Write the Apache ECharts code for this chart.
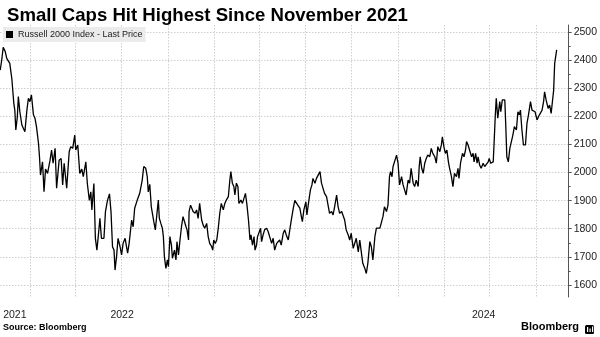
<!DOCTYPE html>
<html>
<head>
<meta charset="utf-8">
<script src="https://cdn.jsdelivr.net/npm/echarts@6/dist/echarts.min.js"></script>
<style>
html,body{margin:0;padding:0;background:#fff;}
#c{width:600px;height:337px;}
</style>
</head>
<body>
<div id="c"></div>
<script>
// ---- data ----
const seriesName = 'Russell 2000 Index - Last Price';
const dates = [
'2021-11-02','2021-11-05','2021-11-08','2021-11-12','2021-11-15','2021-11-18','2021-11-21','2021-11-25','2021-11-28','2021-11-29',
'2021-12-01','2021-12-03','2021-12-06','2021-12-08','2021-12-11','2021-12-15','2021-12-18','2021-12-21','2021-12-25','2021-12-28','2021-12-31',
'2022-01-03','2022-01-07','2022-01-10','2022-01-13','2022-01-17','2022-01-19','2022-01-21','2022-01-25','2022-01-28','2022-01-31',
'2022-02-04','2022-02-09','2022-02-12','2022-02-15','2022-02-19','2022-02-22','2022-02-27',
'2022-03-03','2022-03-06','2022-03-09','2022-03-14','2022-03-19','2022-03-22','2022-03-26','2022-03-30',
'2022-04-01','2022-04-05','2022-04-09','2022-04-13','2022-04-16','2022-04-21','2022-04-24','2022-04-28',
'2022-05-01','2022-05-03','2022-05-07','2022-05-10','2022-05-13','2022-05-16','2022-05-19','2022-05-22','2022-05-27','2022-05-30',
'2022-06-03','2022-06-07','2022-06-10','2022-06-13','2022-06-16','2022-06-18','2022-06-21','2022-06-24','2022-06-28',
'2022-07-01','2022-07-04','2022-07-08','2022-07-13','2022-07-16','2022-07-21','2022-07-24','2022-07-27',
'2022-08-01','2022-08-06','2022-08-11','2022-08-14','2022-08-18','2022-08-21','2022-08-23','2022-08-26','2022-08-29',
'2022-09-03','2022-09-06','2022-09-10','2022-09-12','2022-09-14','2022-09-17','2022-09-20','2022-09-22','2022-09-24','2022-09-27','2022-09-30',
'2022-10-02','2022-10-05','2022-10-08','2022-10-10','2022-10-14','2022-10-17','2022-10-19','2022-10-22','2022-10-25','2022-10-28','2022-10-31',
'2022-11-03','2022-11-06','2022-11-08','2022-11-11','2022-11-12','2022-11-15','2022-11-18','2022-11-20','2022-11-24','2022-11-27','2022-11-30',
'2022-12-03','2022-12-07','2022-12-10','2022-12-13','2022-12-17','2022-12-20','2022-12-23','2022-12-27','2022-12-29','2022-12-31',
'2023-01-03','2023-01-06','2023-01-09','2023-01-12','2023-01-15','2023-01-19','2023-01-22','2023-01-25','2023-01-29',
'2023-02-01','2023-02-03','2023-02-06','2023-02-09','2023-02-11','2023-02-14','2023-02-17','2023-02-19','2023-02-23','2023-02-26',
'2023-03-01','2023-03-04','2023-03-07','2023-03-10','2023-03-13','2023-03-15','2023-03-18','2023-03-21','2023-03-23','2023-03-26','2023-03-28','2023-03-31',
'2023-04-03','2023-04-05','2023-04-08','2023-04-11','2023-04-15','2023-04-18','2023-04-21','2023-04-25','2023-04-28',
'2023-05-01','2023-05-05','2023-05-08','2023-05-11','2023-05-14','2023-05-18','2023-05-21','2023-05-24','2023-05-28','2023-05-31',
'2023-06-03','2023-06-07','2023-06-10','2023-06-13','2023-06-16','2023-06-20','2023-06-23','2023-06-25','2023-06-28',
'2023-07-02','2023-07-04','2023-07-08','2023-07-11','2023-07-14','2023-07-16','2023-07-20','2023-07-23','2023-07-26','2023-07-30',
'2023-08-02','2023-08-05','2023-08-08','2023-08-12','2023-08-15','2023-08-18','2023-08-22','2023-08-25','2023-08-28',
'2023-09-01','2023-09-04','2023-09-07','2023-09-11','2023-09-14','2023-09-17','2023-09-20','2023-09-24','2023-09-27','2023-09-30',
'2023-10-04','2023-10-07','2023-10-10','2023-10-14','2023-10-17','2023-10-20','2023-10-23','2023-10-27','2023-10-30',
'2023-11-02','2023-11-06','2023-11-09','2023-11-12','2023-11-16','2023-11-19','2023-11-22','2023-11-26','2023-11-29',
'2023-12-02','2023-12-05','2023-12-09','2023-12-12','2023-12-15','2023-12-17','2023-12-20','2023-12-22','2023-12-25','2023-12-29',
'2024-01-01','2024-01-04','2024-01-08','2024-01-11','2024-01-14','2024-01-17','2024-01-21','2024-01-24','2024-01-27','2024-01-31',
'2024-02-03','2024-02-06','2024-02-10','2024-02-12','2024-02-14','2024-02-17','2024-02-20','2024-02-23','2024-02-26','2024-02-29',
'2024-03-04','2024-03-07','2024-03-10','2024-03-14','2024-03-17','2024-03-20','2024-03-24','2024-03-27','2024-03-29',
'2024-04-01','2024-04-04','2024-04-07','2024-04-10','2024-04-12','2024-04-16','2024-04-19','2024-04-22','2024-04-26','2024-04-29',
'2024-05-01','2024-05-04','2024-05-08','2024-05-11','2024-05-14','2024-05-16','2024-05-19','2024-05-22','2024-05-26','2024-05-29','2024-05-31',
'2024-06-03','2024-06-06','2024-06-08','2024-06-11','2024-06-14','2024-06-18','2024-06-21','2024-06-24','2024-06-28','2024-06-30',
'2024-07-03','2024-07-08','2024-07-10','2024-07-12','2024-07-14','2024-07-17','2024-07-21','2024-07-23','2024-07-26','2024-07-29','2024-07-31',
'2024-08-02','2024-08-04','2024-08-07','2024-08-10','2024-08-13','2024-08-16','2024-08-19','2024-08-23','2024-08-26','2024-08-29','2024-08-31',
'2024-09-03','2024-09-06','2024-09-10','2024-09-13','2024-09-16','2024-09-20','2024-09-23','2024-09-26','2024-09-29',
'2024-10-03','2024-10-06','2024-10-09','2024-10-13','2024-10-16','2024-10-18','2024-10-21','2024-10-25','2024-10-28','2024-10-31',
'2024-11-02','2024-11-05','2024-11-07','2024-11-09','2024-11-11'
];
const values = [
2364,2400,2445,2430,2406,2412,2388,2335,2329,2246,
2222,2151,2198,2270,2216,2169,2169,2145,2222,2264,2252,
2276,2205,2193,2163,2104,2056,1991,2038,1932,2012,
1997,2044,2080,2033,2086,1944,2044,
2050,1956,2033,1944,2074,2092,2086,2133,
2080,2098,1997,2012,1985,2038,1961,1901,
1931,1867,1961,1766,1724,1778,1837,1766,1766,1861,
1901,1924,1861,1736,1724,1653,1701,1766,1736,
1707,1748,1766,1713,1748,1831,1807,1873,
1901,1926,1973,2021,2015,1985,1931,1958,1878,
1825,1796,1867,1902,1837,1819,1802,1772,1701,1659,1689,
1665,1772,1742,1695,1724,1689,1754,1707,1760,1807,1843,
1849,1807,1796,1760,1861,1884,1890,1861,1855,1867,1837,
1890,1831,1813,1802,1819,1772,1748,1736,1724,1760,
1748,1760,1802,1855,1890,1867,1890,1902,1914,
1973,2003,1962,1950,1920,1962,1950,1890,1902,1890,
1908,1926,1884,1831,1760,1778,1742,1772,1724,1742,1772,1766,
1802,1754,1778,1796,1802,1790,1784,1748,1766,
1724,1748,1742,1760,1742,1784,1796,1778,1760,1754,
1831,1873,1901,1896,1884,1873,1843,1825,1867,
1896,1849,1902,1938,1956,1979,1962,1979,1973,2003,
1962,1956,1926,1914,1884,1855,1861,1849,1878,
1920,1878,1855,1861,1867,1831,1796,1778,1760,1784,
1730,1730,1766,1718,1760,1718,1677,1659,1641,
1677,1754,1736,1689,1772,1802,1796,1802,1807,
1843,1878,1861,1884,1985,2003,1985,2021,2038,2062,
2033,1956,1985,1956,1938,1920,1973,1962,2015,1962,
1950,1973,1950,2021,2056,2015,1997,2033,2050,2062,
2056,2086,2068,2056,2033,2092,2074,2098,2127,
2092,2068,2080,2038,2018,1985,1950,1997,1985,2015,
1979,2033,2068,2056,2080,2110,2098,2098,2056,2068,2038,
2068,2033,2056,2027,2015,2033,2021,2027,2038,2050,
2033,2038,2116,2199,2264,2193,2252,2216,2258,2252,2258,
2163,2056,2038,2086,2092,2133,2163,2151,2216,2205,2222,
2151,2098,2098,2175,2205,2252,2222,2228,2216,
2187,2199,2193,2222,2252,2287,2258,2228,2240,2210,
2205,2293,2388,2394,2436
];
const yTicks = [1600,1700,1800,1900,2000,2100,2200,2300,2400,2500];
const yMinorTicks = [1650,1750,1850,1950,2050,2150,2250,2350,2450];
const quarterTicks = ['2022-01-01','2022-04-01','2022-07-01','2022-10-01','2023-01-01','2023-04-01','2023-07-01','2023-10-01','2024-01-01','2024-04-01','2024-07-01','2024-10-01'];
const yearLabels = ['2021','2022','2023','2024'];
const yearLabelDates = ['2021-12-01','2022-07-02','2023-07-02','2024-06-19'];
const titleText = 'Small Caps Hit Highest Since November 2021';
const sourceText = 'Source: Bloomberg';
const brandText = 'Bloomberg';

function t(s){ const p = s.split('-').map(Number); return new Date(p[0], p[1]-1, p[2]).getTime(); }
const labelTimes = yearLabelDates.map(t);

const seriesData = dates.map((d,i) => [t(d), values[i]]);
const chart = echarts.init(document.getElementById('c'), null, {renderer:'canvas'});
const gridStyle = {color:'#cfcfcf', type:[1.5,1.5], width:1};
const font = 'Liberation Sans, Arial, sans-serif';

chart.setOption({
  animation:false,
  backgroundColor:'#ffffff',
  title:{
    text:titleText, left:2, top:1,
    textStyle:{fontFamily:font, fontWeight:'bold', fontSize:18.6, color:'#000'}
  },
  legend:{
    show:true, left:3, top:27, padding:[3,3,3,3],
    backgroundColor:'#ebebeb', borderRadius:0,
    itemWidth:7, itemHeight:7, itemGap:2,
    icon:'rect',
    data:[{name:seriesName, icon:'rect', itemStyle:{color:'#000'}}],
    textStyle:{fontFamily:font, fontSize:9, color:'#222'}
  },
  grid:{left:0, right:31, top:25, bottom:40, containLabel:false},
  xAxis:{
    type:'value',
    min:new Date(2021,10,1,14).getTime(),
    max:new Date(2024,11,4,18).getTime(),
    axisLine:{show:false},
    axisTick:{show:false, customValues:quarterTicks.map(t)},
    splitLine:{show:true, lineStyle:gridStyle},
    axisLabel:{
      customValues:labelTimes,
      formatter:function(v){ const k = labelTimes.indexOf(v); return k >= 0 ? yearLabels[k] : ''; },
      fontFamily:font, fontSize:10.5, color:'#222', margin:13
    }
  },
  yAxis:[{
    type:'value', position:'right', min:1557.3, max:2524.5,
    axisLine:{show:true, lineStyle:{color:'#555', width:1}},
    axisTick:{show:true, inside:false, length:3, customValues:yTicks, lineStyle:{color:'#555'}},
    axisLabel:{customValues:yTicks, formatter:function(v){ return String(v); }, fontFamily:font, fontSize:10.5, color:'#222', margin:5},
    splitLine:{show:true, lineStyle:gridStyle}
  },{
    type:'value', position:'right', min:1557.3, max:2524.5,
    axisLine:{show:false},
    axisTick:{show:true, inside:false, length:2, customValues:yMinorTicks, lineStyle:{color:'#555'}},
    axisLabel:{show:false},
    splitLine:{show:false}
  }],
  series:[{
    name:seriesName, type:'line', data:seriesData, yAxisIndex:0,
    showSymbol:false, symbol:'none',
    lineStyle:{color:'#000', width:1.3},
    itemStyle:{color:'#000'}
  }],
  graphic:[
    {type:'text', left:3, top:323, style:{text:sourceText, font:'bold 9px '+font, fill:'#000'}},
    {type:'text', left:521, top:321, style:{text:brandText, font:'bold 11px '+font, fill:'#000'}},
    {type:'rect', left:585, top:325, shape:{width:9, height:9, r:1.5}, style:{fill:'#000'}},
    {type:'rect', left:587, top:327, shape:{width:1.2, height:5}, style:{fill:'#fff'}},
    {type:'rect', left:589.5, top:328.5, shape:{width:1.2, height:3.5}, style:{fill:'#fff'}},
    {type:'rect', left:592, top:326.5, shape:{width:1.2, height:5.5}, style:{fill:'#fff'}}
  ]
});
</script>
</body>
</html>
